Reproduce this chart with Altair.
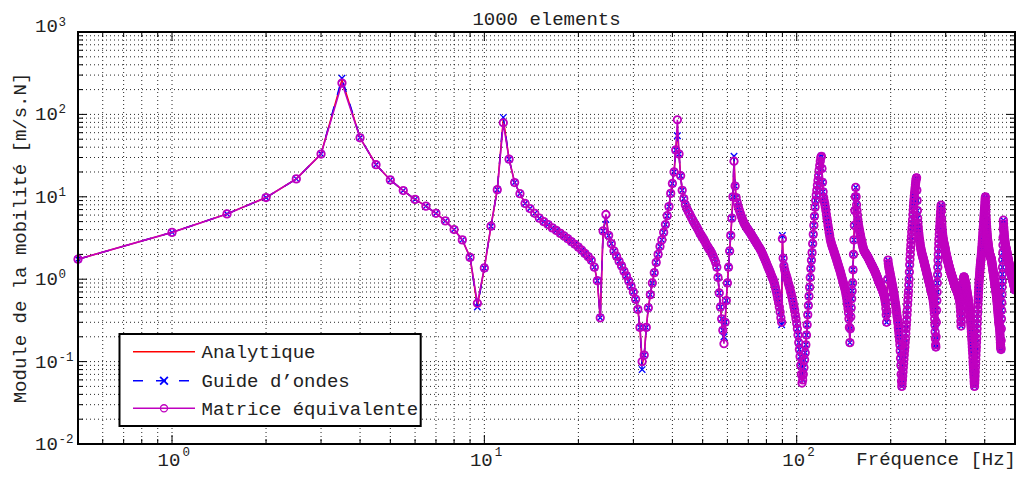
import numpy as np
import pandas as pd
import altair as alt

W, H = 937, 412
FONT = "Liberation Mono"

# ---- Matrice équivalente : mobility values, segment = (start Hz, step Hz, values)
seg_a = [1.75, 3.7, 6.2, 9.8, 16.5, 33, 240, 52, 24.5, 16, 11.9, 9.3, 7.7, 6.3, 5.1, 4.0,
         3.0, 1.84, 0.51, 1.37, 4.4, 12.2, 79, 28.6, 14.9, 10.9]
seg_b = [8.3, 7.2, 6.3, 5.5, 5.0, 4.6, 4.2, 3.9, 3.6, 3.35, 3.1, 2.85, 2.65, 2.45, 2.25,
         2.05, 1.88, 1.7, 1.4, 0.96, 0.34, 3.85, 6.1, 3.4, 2.7, 2.2, 1.9, 1.65, 1.45, 1.25,
         1.1, 0.95, 0.82, 0.7, 0.57, 0.43, 0.26, 0.1]
seg_c = [0.12, 0.26, 0.45, 0.65, 0.9, 1.2, 1.6, 2.0, 2.5, 3.0,
         3.7, 4.6, 5.9, 7.6, 11, 14.5, 20, 37, 86, 33,
         18, 12, 9.5, 8.0, 7.2, 6.6, 6.1, 5.6, 5.2, 4.8,
         4.5, 4.2, 3.9, 3.6, 3.4, 3.2, 3.0, 2.8, 2.6, 2.45,
         2.3, 2.2, 2.05, 1.9, 1.75, 1.6, 1.4, 1.05, 0.68, 0.46,
         0.33, 0.24, 0.165]
seg_d = [0.3, 0.55, 0.9, 1.4, 2.2, 3.4, 5.5, 10, 27, 13.5,
         9.8, 8.5, 7.6, 6.9, 6.3, 5.8, 5.4, 5.0, 4.7, 4.5,
         4.3, 4.1, 3.95, 3.8, 3.65, 3.5, 3.35, 3.2, 3.07, 2.95,
         2.83, 2.71, 2.6, 2.5, 2.4, 2.3, 2.2, 2.08, 1.97, 1.86,
         1.76, 1.66, 1.57, 1.48, 1.4, 1.32, 1.25, 1.18, 1.11, 1.05,
         1.0, 0.93, 0.86, 0.79, 0.72, 0.65, 0.58, 0.52, 0.46, 0.4,
         0.34, 0.3]
seg_e = [3.1, 1.8, 1.45, 1.3, 1.2, 1.12, 1.05, 0.98, 0.9, 0.84,
         0.78, 0.72, 0.67, 0.61, 0.56, 0.51, 0.46, 0.42, 0.37, 0.33,
         0.29, 0.25, 0.21, 0.17, 0.14, 0.115, 0.09, 0.07, 0.055]
seg_f = [0.06, 0.07, 0.085, 0.105, 0.128, 0.16, 0.21, 0.28, 0.37, 0.48,
         0.62, 0.8, 1.05, 1.35, 1.7, 2.1, 2.7, 3.5, 4.5, 5.8,
         7.5, 9.0, 10.5, 12, 13.8, 15.8, 18, 21, 24, 27,
         30, 31, 22, 15, 11.5, 9.8, 8.9, 8.2, 7.5, 6.8,
         6.1, 5.5, 5.0, 4.5, 4.1, 3.7, 3.4, 3.1, 2.9, 2.75,
         2.6, 2.5, 2.39, 2.29, 2.19, 2.1, 2.0, 1.92, 1.84, 1.76,
         1.68, 1.6, 1.53, 1.46, 1.4, 1.34, 1.28, 1.22, 1.16, 1.1,
         1.05, 1.0, 0.95, 0.9, 0.86, 0.82, 0.78, 0.74, 0.69, 0.64,
         0.59, 0.54, 0.49, 0.44, 0.39, 0.33, 0.26, 0.17]
seg_g = [0.25, 0.35, 0.45, 0.58, 0.72, 0.9, 1.3, 2.0, 3.0, 4.5,
         6.8, 10, 13, 10, 8, 6.8, 6.0, 5.3, 4.8, 4.4,
         4.1, 3.85, 3.6, 3.4]
seg_h = [3.2, 3.0, 2.85, 2.7, 2.57, 2.45, 2.35, 2.25, 2.2, 2.15,
         2.11, 2.07, 2.03, 2.0, 1.96, 1.93, 1.89, 1.85, 1.81, 1.77,
         1.73, 1.69, 1.65, 1.62, 1.58, 1.55, 1.51, 1.48, 1.45, 1.42,
         1.39, 1.36, 1.33, 1.3, 1.27, 1.24, 1.21, 1.18, 1.15, 1.12,
         1.09, 1.06, 1.03, 1.0, 0.97, 0.95, 0.92, 0.9, 0.88, 0.86,
         0.84, 0.82, 0.8, 0.78, 0.76, 0.74, 0.72, 0.7, 0.68, 0.66,
         0.64, 0.61, 0.58, 0.54, 0.5, 0.44, 0.37, 0.3, 0.4, 0.6,
         1.0, 1.7]
seg_i = [1.55, 1.45, 1.37, 1.3, 1.24, 1.18, 1.12, 1.07, 1.02, 0.97,
         0.92, 0.88, 0.84, 0.8, 0.76, 0.72, 0.68, 0.65, 0.61, 0.58,
         0.54, 0.51, 0.48, 0.45, 0.42, 0.39, 0.36, 0.34, 0.31, 0.29,
         0.26, 0.24, 0.22, 0.2, 0.18, 0.16, 0.135, 0.11, 0.09, 0.07,
         0.058, 0.05]
seg_j = [0.054, 0.06, 0.067, 0.075, 0.085, 0.095, 0.107, 0.12, 0.135, 0.15,
         0.17, 0.19, 0.22, 0.25, 0.28, 0.32, 0.37, 0.42, 0.49, 0.56,
         0.64, 0.72, 0.85, 1.0, 1.22, 1.5, 1.75, 2.0, 2.3, 2.6,
         2.95, 3.3, 3.75, 4.2, 4.7, 5.3, 6.1, 6.9, 7.7, 8.5,
         9.3, 10.2, 11.1, 12, 13, 14, 15, 16, 16.8, 17,
         12, 9, 6.8, 5.5, 4.8, 4.3, 3.9, 3.6, 3.35, 3.1,
         2.95, 2.8, 2.65, 2.5, 2.4, 2.3, 2.22, 2.15, 2.07, 2.0,
         1.95, 1.9, 1.85, 1.8, 1.75, 1.7, 1.65, 1.6, 1.55, 1.5,
         1.46, 1.42, 1.38, 1.34, 1.3, 1.26, 1.22, 1.19, 1.15, 1.12,
         1.09, 1.06, 1.03, 1.0, 0.97, 0.95, 0.92, 0.9, 0.87, 0.85,
         0.82, 0.8, 0.77, 0.75, 0.73, 0.71, 0.69, 0.67, 0.65, 0.63,
         0.61, 0.59, 0.56, 0.53, 0.5, 0.46, 0.42, 0.38, 0.33, 0.28,
         0.23, 0.19, 0.16, 0.15]
seg_k = [0.2, 0.3, 0.42, 0.55, 0.7, 0.9, 1.13, 1.4, 1.7, 2.0,
         2.35, 2.7, 3.1, 3.5, 3.95, 4.4, 4.9, 5.4, 6.0, 6.6,
         7.3, 7.9, 6.7, 5.5, 4.8, 4.3, 3.9, 3.6, 3.4, 3.2,
         3.07, 2.95, 2.85, 2.75, 2.67, 2.6, 2.52, 2.45, 2.37, 2.3,
         2.22, 2.15, 2.07, 2.0, 1.95, 1.9, 1.85, 1.8, 1.75, 1.7,
         1.66, 1.62, 1.58, 1.54, 1.5, 1.47, 1.43, 1.4, 1.37, 1.34,
         1.31, 1.28, 1.25, 1.23, 1.2, 1.18, 1.15, 1.13, 1.11, 1.09,
         1.07, 1.05, 1.03, 1.01, 0.99, 0.97, 0.95, 0.93, 0.91, 0.9,
         0.88, 0.87, 0.85, 0.84, 0.82, 0.81, 0.79, 0.78, 0.77, 0.76,
         0.75, 0.74, 0.73, 0.72, 0.71, 0.7, 0.69, 0.68, 0.66, 0.65,
         0.63, 0.62, 0.61, 0.6, 0.58, 0.57, 0.55, 0.53, 0.5, 0.46,
         0.41, 0.36, 0.31, 0.27, 0.3, 0.35, 0.41, 0.48, 0.55, 0.62,
         0.7, 0.77, 0.84, 0.9, 0.95, 1.0, 1.04, 1.07]
seg_l = [1.06, 1.05, 1.02, 1.0, 0.97, 0.95, 0.92, 0.9, 0.87, 0.85,
         0.82, 0.8, 0.77, 0.75, 0.72, 0.7, 0.67, 0.65, 0.63, 0.61,
         0.59, 0.57, 0.55, 0.53, 0.51, 0.49, 0.47, 0.45, 0.43, 0.41,
         0.39, 0.37, 0.35, 0.33, 0.31, 0.29, 0.27, 0.25, 0.23, 0.21,
         0.195, 0.18, 0.165, 0.15, 0.137, 0.125, 0.112, 0.1, 0.092, 0.085,
         0.077, 0.07, 0.064, 0.058, 0.054, 0.05]
seg_m = [0.055, 0.06, 0.067, 0.075, 0.085, 0.095, 0.107, 0.12, 0.135, 0.15,
         0.17, 0.19, 0.22, 0.25, 0.29, 0.33, 0.38, 0.43, 0.49, 0.55,
         0.61, 0.68, 0.75, 0.82, 0.9, 0.97, 1.05, 1.12, 1.2, 1.28,
         1.36, 1.44, 1.52, 1.6, 1.67, 1.75, 1.85, 1.95, 2.07, 2.2,
         2.35, 2.5, 2.7, 2.9, 3.1, 3.3, 3.55, 3.8, 4.1, 4.4,
         4.75, 5.1, 5.5, 5.9, 6.35, 6.8, 7.3, 7.8, 8.4, 9.0,
         9.6, 10, 8.6, 7.5, 6.6, 5.8, 5.3, 4.8, 4.4, 4.1,
         3.85, 3.6, 3.4, 3.2, 3.05, 2.9, 2.8, 2.7, 2.6, 2.5,
         2.42, 2.35, 2.27, 2.2, 2.15, 2.1, 2.05, 2.0, 1.97, 1.95,
         1.92, 1.9, 1.87, 1.85, 1.82, 1.8, 1.76, 1.72, 1.68, 1.64,
         1.6, 1.55, 1.5, 1.46, 1.41, 1.37, 1.33, 1.29, 1.25, 1.21,
         1.17, 1.13, 1.1, 1.06, 1.02, 0.99, 0.96, 0.93, 0.9, 0.87,
         0.85, 0.82, 0.8, 0.77, 0.75, 0.73, 0.71, 0.69, 0.66, 0.64,
         0.61, 0.59, 0.56, 0.54, 0.51, 0.49, 0.46, 0.44, 0.42, 0.4,
         0.38, 0.36, 0.345, 0.33, 0.315, 0.3, 0.29, 0.28, 0.27, 0.26,
         0.245, 0.23, 0.215, 0.2, 0.185, 0.17, 0.16, 0.15, 0.145, 0.14]
seg_n = [0.18, 0.25, 0.33, 0.42, 0.52, 0.65, 0.8, 0.95, 1.15, 1.4,
         1.72, 2.1, 2.6, 3.2, 4.1, 5.2, 4.7, 4.3, 4.05, 3.8,
         3.6, 3.4, 3.25, 3.1, 3.0, 2.9, 2.8, 2.7, 2.62, 2.55,
         2.5, 2.45, 2.4, 2.35, 2.3, 2.25, 2.22, 2.2, 2.15, 2.1,
         2.05, 2.0, 1.96, 1.92, 1.88, 1.84, 1.8, 1.77, 1.73, 1.7,
         1.66, 1.63, 1.6, 1.57, 1.54, 1.51, 1.48, 1.45, 1.42, 1.4,
         1.37, 1.35, 1.32, 1.3, 1.27, 1.25, 1.23, 1.21, 1.19, 1.17,
         1.15, 1.13, 1.11, 1.1, 1.08, 1.07, 1.05, 1.04, 1.02, 1.01,
         0.99, 0.98, 0.96, 0.95, 0.93, 0.92, 0.9, 0.89, 0.87, 0.86,
         0.84, 0.83, 0.81, 0.8, 0.78, 0.77, 0.75, 0.74]

segments = [(0.5, 0.5, seg_a), (13.5, 0.5, seg_b), (32.5, 0.5, seg_c), (59.0, 0.5, seg_d),
            (90.0, 0.5, seg_e), (104.5, 0.5, seg_f), (148.5, 0.5, seg_g), (160.5, 0.5, seg_h),
            (196.5, 0.5, seg_i), (217.5, 0.5, seg_j), (279.5, 0.5, seg_k), (343.5, 0.5, seg_l),
            (371.5, 0.5, seg_m), (451.5, 0.5, seg_n)]

# values where the other two models differ from the equivalent-matrix model
guide_diff = {3.5: 275, 9.5: 0.46, 11.5: 92, 24.5: 5.3, 32.0: 0.08, 41.5: 55,
              58.5: 0.2, 63.0: 31, 89.5: 0.28, 90.0: 3.4, 104.0: 0.1}
analytique_diff = {3.5: 262, 9.5: 0.47, 11.5: 88, 24.5: 5.6, 32.0: 0.09, 41.5: 62,
                   58.5: 0.19, 63.0: 30, 90.0: 3.3, 104.0: 0.08}

freqs, mats = [], []
for start, step, values in segments:
    for i, v in enumerate(values):
        freqs.append(round(start + i * step, 2))
        mats.append(v)

df_mat = pd.DataFrame({"f": freqs, "v": mats})
df_gui = pd.DataFrame({"f": freqs, "v": [guide_diff.get(f, v) for f, v in zip(freqs, mats)]})
df_ana = pd.DataFrame({"f": freqs, "v": [analytique_diff.get(f, v) for f, v in zip(freqs, mats)]})

# axes / grid values
x_major = [1, 10, 100]
x_minor = [0.6, 0.7, 0.8, 0.9, 2, 3, 4, 5, 6, 7, 8, 9, 20, 30, 40, 50, 60, 70, 80, 90,
           200, 300, 400]
y_major = [0.01, 0.1, 1, 10, 100, 1000]
y_minor = [m * d for d in [0.01, 0.1, 1, 10, 100] for m in range(2, 10)]
x_label_exp = ["0", "1", "2"]
y_label_vals = [0.01, 0.1, 1, 10, 100]
y_label_exp = ["-2", "-1", "0", "1", "2"]

xs = alt.Scale(type="log", domain=[0.5, 500], nice=False)
ys = alt.Scale(type="log", domain=[0.01, 1000], nice=False)
one = pd.DataFrame({"k": [0]})

def X(field):
    return alt.X(field, scale=xs, axis=None)

def Y(field):
    return alt.Y(field, scale=ys, axis=None)

layers = []
# grid
gx = pd.DataFrame({"g": x_major + x_minor})
gy = pd.DataFrame({"g": y_major + y_minor})
layers.append(alt.Chart(gx).mark_rule(color="black", strokeWidth=1, strokeDash=[1, 3], opacity=0.85)
              .encode(x=X("g:Q"), y=alt.value(0), y2=alt.value(H)))
layers.append(alt.Chart(gy).mark_rule(color="black", strokeWidth=1, strokeDash=[1, 3], opacity=0.85)
              .encode(y=Y("g:Q"), x=alt.value(0), x2=alt.value(W)))

# ticks (inside, on all four sides)
for vals, ln in [(x_major, 9), (x_minor, 5)]:
    d = pd.DataFrame({"g": vals})
    layers.append(alt.Chart(d).mark_rule(color="black", strokeWidth=1)
                  .encode(x=X("g:Q"), y=alt.value(H - ln), y2=alt.value(H)))
    layers.append(alt.Chart(d).mark_rule(color="black", strokeWidth=1)
                  .encode(x=X("g:Q"), y=alt.value(0), y2=alt.value(ln)))
for vals, ln in [(y_major, 9), (y_minor, 5)]:
    d = pd.DataFrame({"g": vals})
    layers.append(alt.Chart(d).mark_rule(color="black", strokeWidth=1)
                  .encode(y=Y("g:Q"), x=alt.value(0), x2=alt.value(ln)))
    layers.append(alt.Chart(d).mark_rule(color="black", strokeWidth=1)
                  .encode(y=Y("g:Q"), x=alt.value(W - ln), x2=alt.value(W)))

# data
RED, BLUE, MAG = "#ff0000", "#0000ff", "#bf00bf"
XSHAPE = "M-1,-1L1,1M-1,1L1,-1"
layers.append(alt.Chart(df_ana).mark_line(color=RED, strokeWidth=1.5)
              .encode(x=X("f:Q"), y=Y("v:Q")))
layers.append(alt.Chart(df_gui).mark_line(color=BLUE, strokeWidth=1.5, strokeDash=[10, 12])
              .encode(x=X("f:Q"), y=Y("v:Q")))
layers.append(alt.Chart(df_gui).mark_point(shape=XSHAPE, size=42, color=BLUE, filled=False,
                                           strokeWidth=1.3, opacity=1)
              .encode(x=X("f:Q"), y=Y("v:Q")))
layers.append(alt.Chart(df_mat).mark_line(color=MAG, strokeWidth=1.6)
              .encode(x=X("f:Q"), y=Y("v:Q")))
layers.append(alt.Chart(df_mat).mark_point(shape="circle", size=56, color=MAG, filled=False,
                                           strokeWidth=1.8, opacity=1)
              .encode(x=X("f:Q"), y=Y("v:Q")))

# frame
layers.append(alt.Chart(one).mark_rect(fillOpacity=0, stroke="black", strokeWidth=2)
              .encode(x=alt.value(0), x2=alt.value(W), y=alt.value(0), y2=alt.value(H)))

# legend
LX0, LX1, LY0, LY1 = 41.5, 342.7, 302, 394
rows_y = [319.7, 348.7, 376.3]
labels = ["Analytique", "Guide d\u2019ondes", "Matrice \u00e9quivalente"]
layers.append(alt.Chart(one).mark_rect(fill="white", stroke="black", strokeWidth=2)
              .encode(x=alt.value(LX0), x2=alt.value(LX1), y=alt.value(LY0), y2=alt.value(LY1)))
layers.append(alt.Chart(one).mark_rule(color=RED, strokeWidth=1.5)
              .encode(x=alt.value(55), x2=alt.value(117), y=alt.value(rows_y[0])))
layers.append(alt.Chart(one).mark_rule(color=BLUE, strokeWidth=1.5, strokeDash=[10, 13])
              .encode(x=alt.value(55), x2=alt.value(117), y=alt.value(rows_y[1])))
layers.append(alt.Chart(one).mark_point(shape=XSHAPE, size=60, color=BLUE, filled=False,
                                        strokeWidth=1.8, opacity=1)
              .encode(x=alt.value(86), y=alt.value(rows_y[1])))
layers.append(alt.Chart(one).mark_rule(color=MAG, strokeWidth=1.5)
              .encode(x=alt.value(55), x2=alt.value(117), y=alt.value(rows_y[2])))
layers.append(alt.Chart(one).mark_point(shape="circle", size=50, color=MAG, filled=False,
                                        strokeWidth=1.3, opacity=1)
              .encode(x=alt.value(86), y=alt.value(rows_y[2])))
for ry, lab in zip(rows_y, labels):
    layers.append(alt.Chart(one).mark_text(font=FONT, fontSize=19, align="left",
                                           baseline="alphabetic", color="#222222")
                  .encode(x=alt.value(123.5), y=alt.value(ry + 6.6), text=alt.value(lab)))

# tick labels
TXT = "#222222"
xl = pd.DataFrame({"t": x_major, "b": ["10"] * 3, "e": x_label_exp})
layers.append(alt.Chart(xl).mark_text(font=FONT, fontSize=19, align="left", baseline="alphabetic",
                                      dx=-14.4, color=TXT)
              .encode(x=X("t:Q"), y=alt.value(H + 22), text="b:N"))
layers.append(alt.Chart(xl).mark_text(font=FONT, fontSize=12.5, align="left", baseline="alphabetic",
                                      dx=10.5, color=TXT)
              .encode(x=X("t:Q"), y=alt.value(H + 12), text="e:N"))
yl = pd.DataFrame({"t": y_label_vals, "b": ["10"] * 5, "e": y_label_exp})
layers.append(alt.Chart(yl).mark_text(font=FONT, fontSize=19, align="left", baseline="middle",
                                      color=TXT)
              .encode(x=alt.value(-43), y=Y("t:Q"), text="b:N"))
layers.append(alt.Chart(yl).mark_text(font=FONT, fontSize=12.5, align="left", baseline="alphabetic",
                                      dy=-1, color=TXT)
              .encode(x=alt.value(-19.5), y=Y("t:Q"), text="e:N"))
yt = pd.DataFrame({"t": [1000], "b": ["10"], "e": ["3"]})
layers.append(alt.Chart(yt).mark_text(font=FONT, fontSize=19, align="left", baseline="middle",
                                      dy=-6, color=TXT)
              .encode(x=alt.value(-43), y=Y("t:Q"), text="b:N"))
layers.append(alt.Chart(yt).mark_text(font=FONT, fontSize=12.5, align="left", baseline="alphabetic",
                                      dy=-6, color=TXT)
              .encode(x=alt.value(-19.5), y=Y("t:Q"), text="e:N"))

# titles
layers.append(alt.Chart(one).mark_text(font=FONT, fontSize=19, align="center", baseline="alphabetic",
                                       color=TXT)
              .encode(x=alt.value(W / 2), y=alt.value(-7), text=alt.value("1000 elements")))
layers.append(alt.Chart(one).mark_text(font=FONT, fontSize=19, align="right", baseline="alphabetic",
                                       color=TXT)
              .encode(x=alt.value(W + 1), y=alt.value(H + 21), text=alt.value("Fr\u00e9quence [Hz]")))
layers.append(alt.Chart(one).mark_text(font=FONT, fontSize=19, align="center", baseline="alphabetic",
                                       angle=270, color=TXT)
              .encode(x=alt.value(-52), y=alt.value(H / 2),
                      text=alt.value("Module de la mobilit\u00e9 [m/s.N]")))

chart = alt.layer(*layers).properties(
    width=W, height=H,
    autosize=alt.AutoSizeParams(type="none"),
    padding={"left": 70, "top": 24, "right": 1, "bottom": 28},
).configure_view(strokeWidth=0)

chart.save("out.html", embed_options={"renderer": "svg", "actions": False})
